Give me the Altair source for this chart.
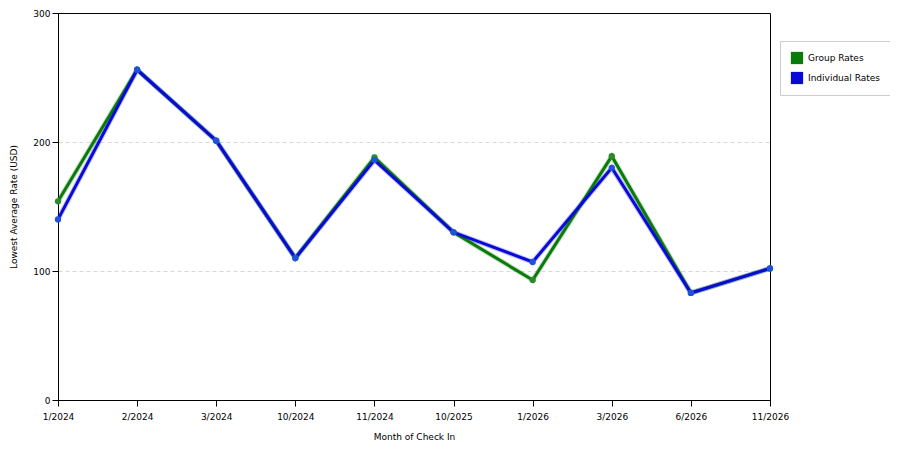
import altair as alt
import pandas as pd

months = ["1/2024", "2/2024", "3/2024", "10/2024", "11/2024", "10/2025", "1/2026", "3/2026", "6/2026", "11/2026"]
group_rates = [154, 256, 201, 110, 188, 130, 93, 189, 83, 102]
individual_rates = [140, 256, 201, 110, 186, 130, 107, 180, 83, 102]
series = ["Group Rates", "Individual Rates"]
colors = ["#0a7a0a", "#0a0ad8"]

rows = []
for m, g, i in zip(months, group_rates, individual_rates):
    rows.append({"month": m, "rate": g, "series": series[0]})
    rows.append({"month": m, "rate": i, "series": series[1]})
df = pd.DataFrame(rows)

FONT = "DejaVu Sans"

x = alt.X("month:N", sort=months, scale=alt.Scale(type="point", padding=0),
          axis=alt.Axis(title="Month of Check In", labelAngle=0, grid=False, tickSize=6,
                        domainColor="black", tickColor="black", labelPadding=6, titlePadding=11,
                        titleFontWeight=400, labelFontWeight=400))
y = alt.Y("rate:Q", scale=alt.Scale(domain=[0, 300], nice=False),
          axis=alt.Axis(title="Lowest Average Rate (USD)", values=[0, 100, 200, 300], tickSize=6,
                        grid=True, gridDash=[4, 3], gridColor="#d8d8d8",
                        gridOpacity=alt.ExprRef("datum.value == 300 || datum.value == 0 ? 0 : 1"),
                        domainColor="black", tickColor="black", titlePadding=14,
                        titleFontWeight=400, labelFontWeight=400))
cscale = alt.Scale(domain=series, range=colors)
legend = alt.Legend(title=None, orient="none", legendX=722, legendY=28,
                    symbolType="square", symbolSize=150, symbolStrokeWidth=1,
                    strokeColor="#cccccc", padding=10, rowPadding=6,
                    labelFontSize=9, labelFont=FONT, symbolOpacity=1)

base = alt.Chart(df)
halo = base.mark_line(strokeWidth=5, opacity=0.25).encode(
    x=x, y=y, color=alt.Color("series:N", scale=cscale, legend=None))
lines = base.mark_line(strokeWidth=3).encode(
    x=x, y=y, color=alt.Color("series:N", scale=cscale, legend=None))
points = base.mark_square(size=0, opacity=0).encode(
    x=x, y=y, color=alt.Color("series:N", scale=cscale, legend=legend))
dots = base.mark_circle(size=40, opacity=1).encode(
    x=x, y=y, color=alt.Color("series:N", scale=alt.Scale(domain=series, range=["#2a8a2a", "#2050e0"]), legend=None))

chart = alt.layer(halo, lines, points, dots).resolve_scale(color="independent").properties(
    width=712, height=387,
    background="white",
    autosize=alt.AutoSizeParams(type="none"),
    padding={"left": 50, "top": 5, "right": 120, "bottom": 42},
).configure_axis(
    labelFont=FONT, titleFont=FONT, labelFontSize=9, titleFontSize=9,
    labelColor="black", titleColor="black"
).configure_view(stroke="black", strokeWidth=1)

chart.save("out.html", embed_options={"renderer": "svg", "actions": False})
